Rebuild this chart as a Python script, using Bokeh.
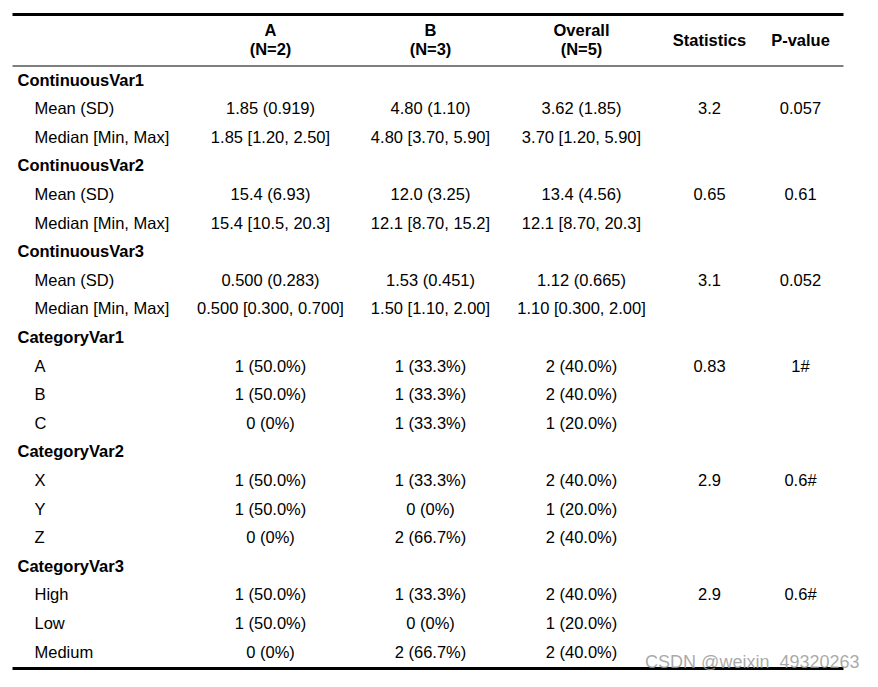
from bokeh.plotting import figure
from bokeh.models import Range1d, ColumnDataSource
from bokeh.core.properties import value
from bokeh.embed import file_html
from bokeh.resources import INLINE

# ---- table content ----
header_top = ["A", "B", "Overall"]
header_bottom = ["(N=2)", "(N=3)", "(N=5)"]
header_single = ["Statistics", "P-value"]

row_labels = [
    "ContinuousVar1", "Mean (SD)", "Median [Min, Max]",
    "ContinuousVar2", "Mean (SD)", "Median [Min, Max]",
    "ContinuousVar3", "Mean (SD)", "Median [Min, Max]",
    "CategoryVar1", "A", "B", "C",
    "CategoryVar2", "X", "Y", "Z",
    "CategoryVar3", "High", "Low", "Medium",
]
row_is_group = [1, 0, 0, 1, 0, 0, 1, 0, 0, 1, 0, 0, 0, 1, 0, 0, 0, 1, 0, 0, 0]

col_A = ["", "1.85 (0.919)", "1.85 [1.20, 2.50]",
         "", "15.4 (6.93)", "15.4 [10.5, 20.3]",
         "", "0.500 (0.283)", "0.500 [0.300, 0.700]",
         "", "1 (50.0%)", "1 (50.0%)", "0 (0%)",
         "", "1 (50.0%)", "1 (50.0%)", "0 (0%)",
         "", "1 (50.0%)", "1 (50.0%)", "0 (0%)"]
col_B = ["", "4.80 (1.10)", "4.80 [3.70, 5.90]",
         "", "12.0 (3.25)", "12.1 [8.70, 15.2]",
         "", "1.53 (0.451)", "1.50 [1.10, 2.00]",
         "", "1 (33.3%)", "1 (33.3%)", "1 (33.3%)",
         "", "1 (33.3%)", "0 (0%)", "2 (66.7%)",
         "", "1 (33.3%)", "0 (0%)", "2 (66.7%)"]
col_overall = ["", "3.62 (1.85)", "3.70 [1.20, 5.90]",
               "", "13.4 (4.56)", "12.1 [8.70, 20.3]",
               "", "1.12 (0.665)", "1.10 [0.300, 2.00]",
               "", "2 (40.0%)", "2 (40.0%)", "1 (20.0%)",
               "", "2 (40.0%)", "1 (20.0%)", "2 (40.0%)",
               "", "2 (40.0%)", "1 (20.0%)", "2 (40.0%)"]
col_stat = ["", "3.2", "", "", "0.65", "", "", "3.1", "",
            "", "0.83", "", "", "", "2.9", "", "", "", "2.9", "", ""]
col_p = ["", "0.057", "", "", "0.61", "", "", "0.052", "",
         "", "1#", "", "", "", "0.6#", "", "", "", "0.6#", "", ""]

watermark = "CSDN @weixin_49320263"

# ---- layout (screenshot pixel coordinates) ----
W, H = 862, 671
FONT = value("Liberation Sans")
FS = "16.5px"
col_x = [270, 430, 581, 709, 800]
row_y0, row_h = 79, 28.6
left, right = 12, 843

p = figure(width=W, height=H, output_backend="svg", toolbar_location=None,
           x_range=Range1d(0, W), y_range=Range1d(H, 0),
           min_border=0, outline_line_color=None, background_fill_color="white")
p.axis.visible = False
p.grid.visible = False

ys = [row_y0 + i * row_h for i in range(len(row_labels))]

# row labels
grp = [(l, y) for l, y, g in zip(row_labels, ys, row_is_group) if g]
sub = [(l, y) for l, y, g in zip(row_labels, ys, row_is_group) if not g]
p.text(x=[17] * len(grp), y=[y for _, y in grp], text=[l for l, _ in grp],
       text_font=FONT, text_font_size=FS, text_font_style="bold",
       text_align="left", text_baseline="middle", text_color="black")
p.text(x=[34] * len(sub), y=[y for _, y in sub], text=[l for l, _ in sub],
       text_font=FONT, text_font_size=FS,
       text_align="left", text_baseline="middle", text_color="black")

# body columns
for cx, col in zip(col_x, [col_A, col_B, col_overall, col_stat, col_p]):
    src = ColumnDataSource(dict(x=[cx] * len(col), y=ys, t=col))
    p.text(x="x", y="y", text="t", source=src, text_font=FONT, text_font_size=FS,
           text_align="center", text_baseline="middle", text_color="black")

# headers
p.text(x=col_x[:3], y=[29] * 3, text=header_top, text_font=FONT, text_font_size=FS,
       text_font_style="bold", text_align="center", text_baseline="middle")
p.text(x=col_x[:3], y=[48] * 3, text=header_bottom, text_font=FONT, text_font_size=FS,
       text_font_style="bold", text_align="center", text_baseline="middle")
p.text(x=col_x[3:], y=[39] * 2, text=header_single, text_font=FONT, text_font_size=FS,
       text_font_style="bold", text_align="center", text_baseline="middle")

# rules
p.segment(x0=[left], y0=[14], x1=[right], y1=[14], line_color="black", line_width=3)
p.segment(x0=[left], y0=[65.5], x1=[right], y1=[65.5], line_color="black", line_width=1)
p.segment(x0=[left], y0=[668], x1=[right], y1=[668], line_color="black", line_width=3)

# watermark
p.text(x=[859], y=[661], text=[watermark], text_font=FONT, text_font_size="18px",
       text_align="right", text_baseline="middle", text_color="#9a9a9a", text_alpha=0.85)

open("out.html", "w").write(file_html(p, INLINE))
